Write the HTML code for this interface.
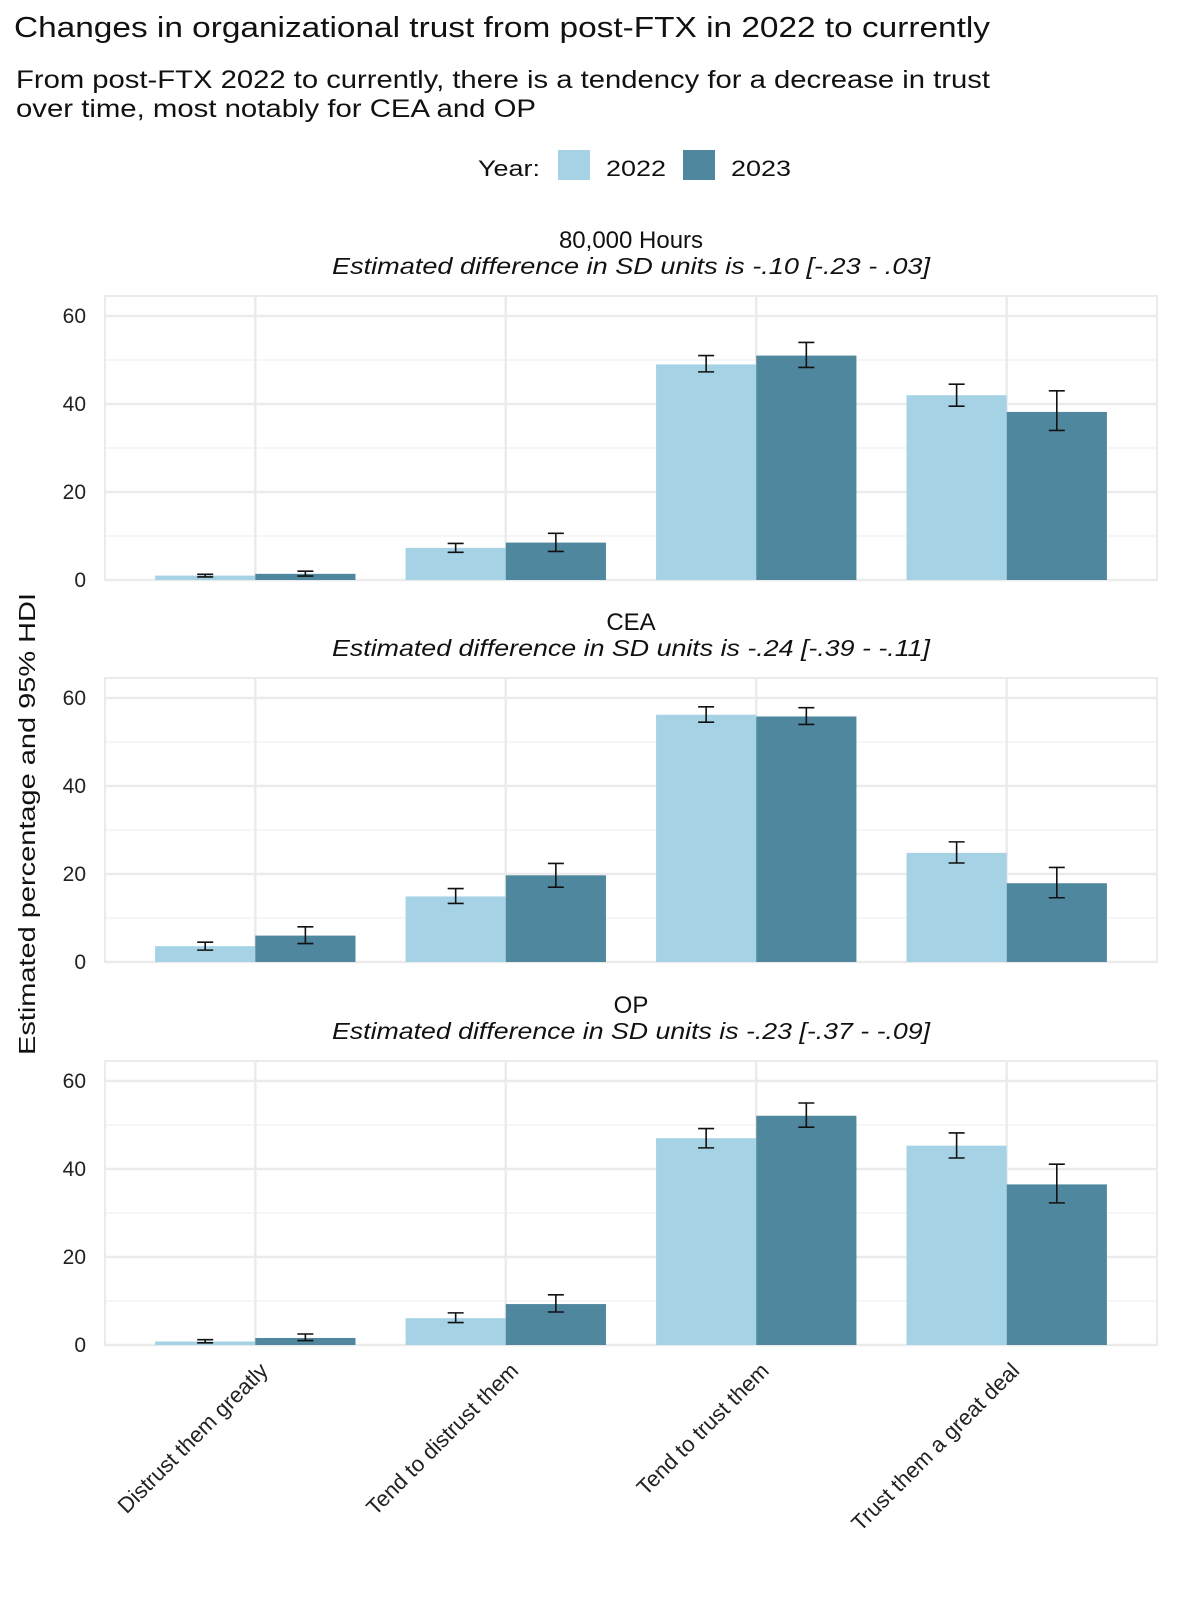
<!DOCTYPE html>
<html><head><meta charset="utf-8"><style>
html,body{margin:0;padding:0;background:#fff;}
svg{display:block;font-family:"Liberation Sans",sans-serif;}
</style></head><body>
<svg id="chart" width="1200" height="1600" viewBox="0 0 1200 1600" xmlns="http://www.w3.org/2000/svg">
<text x="14" y="37" font-size="29" fill="#111" textLength="976" lengthAdjust="spacingAndGlyphs">Changes in organizational trust from post-FTX in 2022 to currently</text>
<text x="16" y="88" font-size="25" fill="#111" textLength="974" lengthAdjust="spacingAndGlyphs">From post-FTX 2022 to currently, there is a tendency for a decrease in trust</text>
<text x="16" y="117" font-size="25" fill="#111" textLength="520" lengthAdjust="spacingAndGlyphs">over time, most notably for CEA and OP</text>
<g>
<text x="478" y="176" font-size="22" fill="#111" textLength="62" lengthAdjust="spacingAndGlyphs">Year:</text>
<rect x="558" y="150" width="32" height="30" fill="#a6d2e6"/>
<text x="606" y="176" font-size="22" fill="#111" textLength="60" lengthAdjust="spacingAndGlyphs">2022</text>
<rect x="683" y="150" width="32" height="30" fill="#4f879f"/>
<text x="731" y="176" font-size="22" fill="#111" textLength="60" lengthAdjust="spacingAndGlyphs">2023</text>
</g>
<text transform="translate(35,824) rotate(-90)" text-anchor="middle" font-size="23" fill="#111" textLength="462" lengthAdjust="spacingAndGlyphs">Estimated percentage and 95% HDI</text>
<g id="panels"></g>
</svg>
<script>
const categories = ["Distrust them greatly","Tend to distrust them","Tend to trust them","Trust them a great deal"];
const panelTitles = ["80,000 Hours","CEA","OP"];
const panelSubtitles = ["Estimated difference in SD units is -.10 [-.23 - .03]","Estimated difference in SD units is -.24 [-.39 - -.11]","Estimated difference in SD units is -.23 [-.37 - -.09]"];
const yTicks = [0,20,40,60];
const values2022 = [[1.0,7.3,49,42],[3.6,14.9,56.2,24.8],[0.8,6.1,47,45.3]];
const values2023 = [[1.4,8.5,51,38.2],[6,19.7,55.8,17.9],[1.6,9.3,52.1,36.5]];
const low2022 = [[0.7,6.3,47.3,39.5],[2.7,13.3,54.5,22.5],[0.5,5.1,44.8,42.5]];
const high2022 = [[1.3,8.3,51,44.5],[4.5,16.7,58,27.3],[1.2,7.3,49.2,48.2]];
const low2023 = [[0.9,6.5,48.3,34],[4.2,17,54,14.6],[1.0,7.5,49.5,32.3]];
const high2023 = [[2.0,10.6,54,43],[8,22.4,57.8,21.5],[2.5,11.4,55,41.1]];

const NS="http://www.w3.org/2000/svg";
const root=document.getElementById('panels');
const L=105,R=1157,zeros=[580,962,1345],pxPerUnit=264/60;
const step=(R-L)/4.2;
function xCat(i){return L+(i+0.6)*step;}
function mk(tag,attrs,parent){const e=document.createElementNS(NS,tag);for(const k in attrs)e.setAttribute(k,attrs[k]);parent.appendChild(e);return e;}
const series=[{v:values2022,lo:low2022,hi:high2022,c:"#a6d2e6",name:"2022",off:-1},{v:values2023,lo:low2023,hi:high2023,c:"#4f879f",name:"2023",off:0}];
for(let p=0;p<3;p++){
  const z=zeros[p];
  const y=v=>z-v*pxPerUnit;
  const top=z-284;
  const g=mk('g',{},root);
  
  
  const t1=mk('text',{x:(L+R)/2,y:top-48,'text-anchor':'middle','font-size':24,fill:'#111'},g);t1.textContent=panelTitles[p];
  
  
  const t2=mk('text',{x:(L+R)/2,y:top-22,'text-anchor':'middle','font-size':23,'font-style':'italic',fill:'#111',textLength:598,lengthAdjust:'spacingAndGlyphs'},g);t2.textContent=panelSubtitles[p];
  
  
  for(let m=10;m<=60;m+=20){const l=mk('line',{x1:L,x2:R,y1:y(m),y2:y(m),stroke:'#f3f3f3','stroke-width':1.5},g);}
  yTicks.forEach(tk=>{
    const l=mk('line',{x1:L,x2:R,y1:y(tk),y2:y(tk),stroke:'#ebebeb','stroke-width':2.5},g);
    
    
    const tx=mk('text',{x:86,y:y(tk)+7,'text-anchor':'end','font-size':21,fill:'#222'},g);tx.textContent=tk;
    
    
  });
  categories.forEach((c,i)=>{const l=mk('line',{x1:xCat(i),x2:xCat(i),y1:top,y2:z,stroke:'#ebebeb','stroke-width':2.5},g);});
  const border=mk('rect',{x:L,y:top,width:R-L,height:z-top,fill:'none',stroke:'#ebebeb','stroke-width':2},g);
  
  
  const bw=step*0.4;
  series.forEach(s=>{
    categories.forEach((c,i)=>{
      const x0=xCat(i)+s.off*bw;
      const r=mk('rect',{x:x0,y:y(s.v[p][i]),width:bw,height:s.v[p][i]*pxPerUnit,fill:s.c},g);
      
      
    });
  });
  series.forEach(s=>{
    categories.forEach((c,i)=>{
      const cx=xCat(i)+s.off*bw+bw/2;
      const eb=mk('path',{d:`M${cx-8},${y(s.hi[p][i])}H${cx+8}M${cx},${y(s.hi[p][i])}V${y(s.lo[p][i])}M${cx-8},${y(s.lo[p][i])}H${cx+8}`,stroke:'#111','stroke-width':1.6,fill:'none'},g);
      
      
    });
  });
}
categories.forEach((c,i)=>{
  const x=xCat(i)+14,yy=1372;
  const t=mk('text',{x:x,y:yy,transform:`rotate(-45 ${x} ${yy})`,'text-anchor':'end','font-size':22,fill:'#222'},root);
  t.textContent=c;
  
  
});
</script>
</body></html>
